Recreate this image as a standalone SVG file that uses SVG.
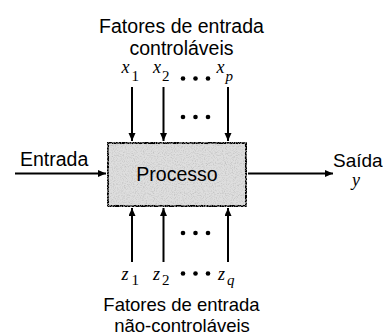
<svg xmlns="http://www.w3.org/2000/svg" width="383" height="336" viewBox="0 0 383 336">
<defs>
<style>
.lbl{font-family:"Liberation Sans",Arial,sans-serif;font-size:19.5px;fill:#000}
.mi{font-family:"Liberation Serif","DejaVu Serif","Times New Roman",serif;font-style:italic;font-size:18px;fill:#000}
.sub{font-family:"Liberation Serif","DejaVu Serif","Times New Roman",serif;font-size:15px;fill:#000}
.subi{font-family:"Liberation Serif","DejaVu Serif","Times New Roman",serif;font-style:italic;font-size:15px;fill:#000}
.conn{stroke:#000;stroke-width:2;fill:none}
.dot{fill:#000}
</style>
<marker id="ah" markerUnits="userSpaceOnUse" markerWidth="9" markerHeight="8" refX="8" refY="3.5" orient="auto">
<path d="M0,0 L8,3.5 L0,7 z" fill="#000"/>
</marker>
<filter id="grain" x="0" y="0" width="1" height="1">
<feTurbulence type="fractalNoise" baseFrequency="0.9" numOctaves="2" seed="3" result="n"/>
<feColorMatrix in="n" type="matrix" values="0 0 0 0 0.5  0 0 0 0 0.5  0 0 0 0 0.5  0 0 0 2 -0.9" result="g"/>
<feComposite in="g" in2="SourceGraphic" operator="in" result="gi"/>
<feMerge><feMergeNode in="SourceGraphic"/><feMergeNode in="gi"/></feMerge>
</filter>
</defs>
<rect width="383" height="336" fill="#fff"/>

<g id="top-label">
<text class="lbl" x="181.5" y="32.5" text-anchor="middle">Fatores de entrada</text>
<text class="lbl" x="181.5" y="54.5" text-anchor="middle">controláveis</text>
</g>

<g id="x-inputs">
<text class="mi" x="121.5" y="73">x</text><text class="sub" x="131.5" y="81">1</text>
<text class="mi" x="153" y="73">x</text><text class="sub" x="162" y="81">2</text>
<circle class="dot" cx="183" cy="78.5" r="2.3"/><circle class="dot" cx="195.5" cy="78.5" r="2.3"/><circle class="dot" cx="208" cy="78.5" r="2.3"/>
<text class="mi" x="216.5" y="73">x</text><text class="subi" x="225.5" y="81">p</text>
<circle class="dot" cx="183" cy="117" r="2.3"/><circle class="dot" cx="195.5" cy="117" r="2.3"/><circle class="dot" cx="208" cy="117" r="2.3"/>
</g>

<g id="processo">
<rect x="107.5" y="142.5" width="139" height="64" fill="#dedede" stroke="#000" stroke-width="3" filter="url(#grain)"/>
<text class="lbl" x="177" y="181" text-anchor="middle">Processo</text>
</g>

<g id="entrada">
<text class="lbl" x="20" y="166">Entrada</text>
</g>

<g id="saida">
<text class="lbl" x="333" y="167" style="font-size:19px">Saída</text>
<text class="mi" x="352" y="186">y</text>
</g>

<g id="z-inputs">
<circle class="dot" cx="183" cy="233" r="2.3"/><circle class="dot" cx="195.5" cy="233" r="2.3"/><circle class="dot" cx="208" cy="233" r="2.3"/>
<text class="mi" x="121.5" y="280">z</text><text class="sub" x="131.5" y="285">1</text>
<text class="mi" x="153" y="280">z</text><text class="sub" x="162" y="285">2</text>
<circle class="dot" cx="183" cy="273.5" r="2.3"/><circle class="dot" cx="195.5" cy="273.5" r="2.3"/><circle class="dot" cx="208" cy="273.5" r="2.3"/>
<text class="mi" x="218" y="280">z</text><text class="subi" x="227" y="285">q</text>
</g>

<g id="bottom-label">
<text class="lbl" x="181.5" y="311" text-anchor="middle" style="font-size:18.5px">Fatores de entrada</text>
<text class="lbl" x="182" y="332" text-anchor="middle" style="font-size:18.5px">não-controláveis</text>
</g>

<g id="connectors">
<line class="conn" x1="132" y1="87" x2="132" y2="141" marker-end="url(#ah)"/>
<line class="conn" x1="163.5" y1="87" x2="163.5" y2="141" marker-end="url(#ah)"/>
<line class="conn" x1="228" y1="87" x2="228" y2="141" marker-end="url(#ah)"/>
<line class="conn" x1="132" y1="262" x2="132" y2="208" marker-end="url(#ah)"/>
<line class="conn" x1="163.5" y1="262" x2="163.5" y2="208" marker-end="url(#ah)"/>
<line class="conn" x1="228" y1="262" x2="228" y2="208" marker-end="url(#ah)"/>
<line class="conn" x1="15" y1="173.5" x2="106" y2="173.5" marker-end="url(#ah)"/>
<line class="conn" x1="248" y1="173.5" x2="333" y2="173.5" marker-end="url(#ah)"/>
</g>
</svg>
